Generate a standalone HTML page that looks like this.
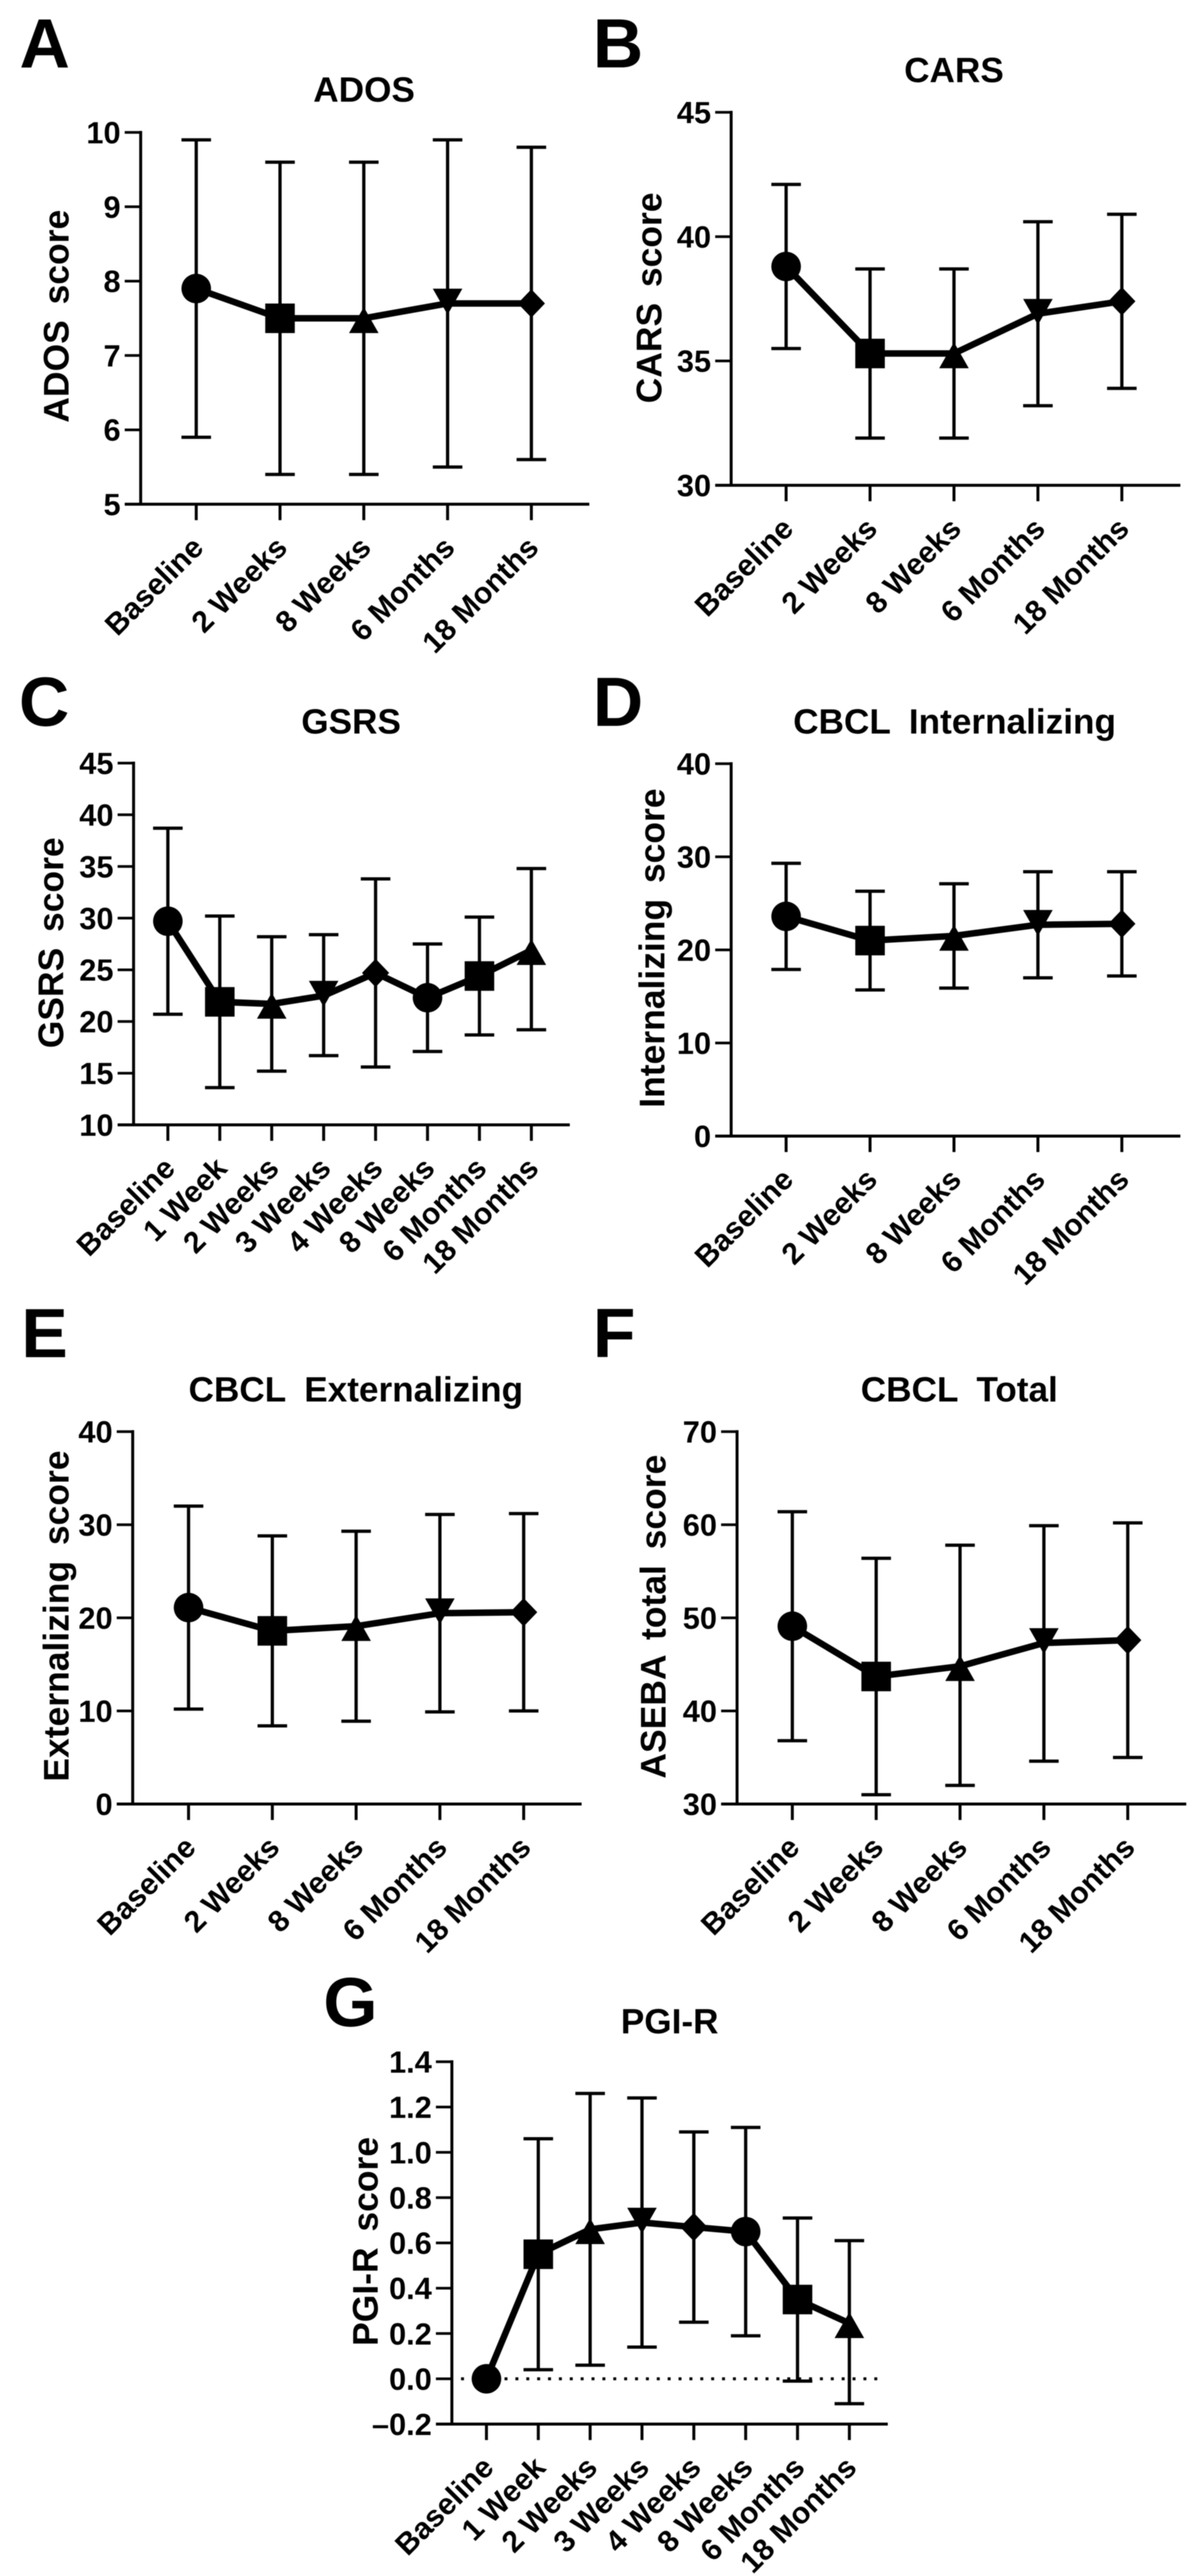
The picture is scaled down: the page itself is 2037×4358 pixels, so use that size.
<!DOCTYPE html>
<html lang="en">
<head>
<meta charset="utf-8">
<title>Longitudinal outcome scores, panels A to G</title>
<style>
  html, body { margin: 0; padding: 0; background: #fff; }
  #figure { display: block; width: 2037px; height: 4358px; filter: blur(0.7px); }
  text { font-family: "Liberation Sans", Arial, sans-serif; font-weight: 700; fill: #000; }
</style>
</head>
<body>
<svg id="figure" xmlns="http://www.w3.org/2000/svg" width="2037" height="4358" viewBox="0 0 2037 4358"></svg>
<script>
// ---------- Data ----------
const fiveCategories = ['Baseline', '2 Weeks', '8 Weeks', '6 Months', '18 Months'];
const eightCategories = ['Baseline', '1 Week', '2 Weeks', '3 Weeks', '4 Weeks', '8 Weeks', '6 Months', '18 Months'];

const adosTicks = [5, 6, 7, 8, 9, 10];
const adosMeans = [7.9, 7.5, 7.5, 7.7, 7.7];
const adosUpper = [9.9, 9.6, 9.6, 9.9, 9.8];
const adosLower = [5.9, 5.4, 5.4, 5.5, 5.6];

const carsTicks = [30, 35, 40, 45];
const carsMeans = [38.8, 35.3, 35.3, 36.9, 37.4];
const carsUpper = [42.1, 38.7, 38.7, 40.6, 40.9];
const carsLower = [35.5, 31.9, 31.9, 33.2, 33.9];

const gsrsTicks = [10, 15, 20, 25, 30, 35, 40, 45];
const gsrsMeans = [29.7, 21.9, 21.7, 22.5, 24.7, 22.3, 24.4, 26.9];
const gsrsUpper = [38.7, 30.2, 28.2, 28.4, 33.8, 27.5, 30.1, 34.8];
const gsrsLower = [20.7, 13.6, 15.2, 16.7, 15.6, 17.1, 18.7, 19.2];

const internalizingTicks = [0, 10, 20, 30, 40];
const internalizingMeans = [23.6, 21.0, 21.5, 22.7, 22.8];
const internalizingUpper = [29.3, 26.3, 27.1, 28.4, 28.4];
const internalizingLower = [17.9, 15.7, 15.9, 17.0, 17.2];

const externalizingTicks = [0, 10, 20, 30, 40];
const externalizingMeans = [21.1, 18.6, 19.1, 20.5, 20.6];
const externalizingUpper = [32.0, 28.8, 29.3, 31.1, 31.2];
const externalizingLower = [10.2, 8.4, 8.9, 9.9, 10.0];

const totalTicks = [30, 40, 50, 60, 70];
const totalMeans = [49.1, 43.7, 44.8, 47.3, 47.6];
const totalUpper = [61.4, 56.4, 57.8, 59.9, 60.2];
const totalLower = [36.8, 31.0, 32.0, 34.6, 35.0];

const pgiTicks = [-0.2, 0, 0.2, 0.4, 0.6, 0.8, 1.0, 1.2, 1.4];
const pgiTickLabels = ['\u20130.2', '0.0', '0.2', '0.4', '0.6', '0.8', '1.0', '1.2', '1.4'];
const pgiMeans = [0, 0.55, 0.66, 0.69, 0.67, 0.65, 0.35, 0.245];
const pgiUpper = [0, 1.06, 1.26, 1.24, 1.09, 1.11, 0.71, 0.61];
const pgiLower = [0, 0.04, 0.06, 0.14, 0.25, 0.19, -0.01, -0.11];

const markerCycle = ['circle', 'square', 'triangle-up', 'triangle-down', 'diamond'];

// ---------- Panel layout (pixels) ----------
const panels = [
  { id: 'ados', letter: 'A', letterX: 33, letterY: 114, title: 'ADOS', titleX: 616, titleY: 172,
    yTitle: 'ADOS score', yTitleX: 116, yTitleY: 535,
    axisX: 238, axisEnd: 997, top: 224, bottom: 853, catFirst: 332, catLast: 899,
    cats: fiveCategories, ticks: adosTicks, means: adosMeans, upper: adosUpper, lower: adosLower },
  { id: 'cars', letter: 'B', letterX: 1003, letterY: 114, title: 'CARS', titleX: 1614, titleY: 139,
    yTitle: 'CARS score', yTitleX: 1119, yTitleY: 504,
    axisX: 1237, axisEnd: 1997, top: 190, bottom: 821, catFirst: 1330, catLast: 1898,
    cats: fiveCategories, ticks: carsTicks, means: carsMeans, upper: carsUpper, lower: carsLower },
  { id: 'gsrs', letter: 'C', letterX: 32, letterY: 1228, title: 'GSRS', titleX: 594, titleY: 1241,
    yTitle: 'GSRS score', yTitleX: 107, yTitleY: 1595,
    axisX: 226, axisEnd: 964, top: 1291, bottom: 1903, catFirst: 284, catLast: 899,
    cats: eightCategories, ticks: gsrsTicks, means: gsrsMeans, upper: gsrsUpper, lower: gsrsLower },
  { id: 'internalizing', letter: 'D', letterX: 1003, letterY: 1228, title: 'CBCL Internalizing', titleX: 1615, titleY: 1241,
    yTitle: 'Internalizing score', yTitleX: 1124, yTitleY: 1604,
    axisX: 1237, axisEnd: 1997, top: 1292, bottom: 1922, catFirst: 1330, catLast: 1898,
    cats: fiveCategories, ticks: internalizingTicks, means: internalizingMeans, upper: internalizingUpper, lower: internalizingLower },
  { id: 'externalizing', letter: 'E', letterX: 36, letterY: 2296, title: 'CBCL Externalizing', titleX: 602, titleY: 2371,
    yTitle: 'Externalizing score', yTitleX: 116, yTitleY: 2734,
    axisX: 224.5, axisEnd: 984, top: 2422, bottom: 3052, catFirst: 319, catLast: 886,
    cats: fiveCategories, ticks: externalizingTicks, means: externalizingMeans, upper: externalizingUpper, lower: externalizingLower },
  { id: 'total', letter: 'F', letterX: 1003, letterY: 2296, title: 'CBCL Total', titleX: 1623, titleY: 2371,
    yTitle: 'ASEBA total score', yTitleX: 1126, yTitleY: 2735,
    axisX: 1247, axisEnd: 2007, top: 2422, bottom: 3052, catFirst: 1340.5, catLast: 1908,
    cats: fiveCategories, ticks: totalTicks, means: totalMeans, upper: totalUpper, lower: totalLower },
  { id: 'pgi', letter: 'G', letterX: 547, letterY: 3428, title: 'PGI-R', titleX: 1133, titleY: 3440,
    yTitle: 'PGI-R score', yTitleX: 639, yTitleY: 3792,
    axisX: 764.5, axisEnd: 1502, top: 3488, bottom: 4101, catFirst: 823, catLast: 1437,
    cats: eightCategories, ticks: pgiTicks, tickLabels: pgiTickLabels, means: pgiMeans, upper: pgiUpper, lower: pgiLower,
    zeroLine: true }
];

// ---------- Drawing ----------
const NS = 'http://www.w3.org/2000/svg';
const svg = document.getElementById('figure');

function make(tag, parent, props) {
  const node = document.createElementNS(NS, tag);
  for (const key in props) node.setAttribute(key, props[key]);
  parent.appendChild(node);
  return node;
}

function drawMarker(parent, kind, x, y) {
  const h = 25;
  if (kind === 'circle') return make('circle', parent, { cx: x, cy: y, r: h, fill: '#000' });
  if (kind === 'square') return make('rect', parent, { x: x - h, y: y - h, width: 2 * h, height: 2 * h, fill: '#000' });
  let pts;
  if (kind === 'triangle-up') pts = [[x, y - 19], [x + h, y + 25], [x - h, y + 25]];
  else if (kind === 'triangle-down') pts = [[x, y + 19], [x + h, y - 25], [x - h, y - 25]];
  else pts = [[x, y - 24], [x + 23, y], [x, y + 24], [x - 23, y]];
  return make('polygon', parent, { points: pts.map(function (p) { return p.join(','); }).join(' '), fill: '#000' });
}

panels.forEach(function (p) {
  const yMin = p.ticks[0];
  const yMax = p.ticks[p.ticks.length - 1];
  const yScale = function (v) { return p.bottom - (v - yMin) / (yMax - yMin) * (p.bottom - p.top); };
  const xScale = function (i) { return p.catFirst + i * (p.catLast - p.catFirst) / (p.cats.length - 1); };

  const g = make('g', svg, {});
  
  

  const letter = make('text', g, { x: p.letterX, y: p.letterY, 'font-size': 118 });
  letter.textContent = p.letter;
  
  

  const title = make('text', g, { x: p.titleX, y: p.titleY, 'font-size': 59.5, 'word-spacing': 15, 'text-anchor': 'middle' });
  title.textContent = p.title;
  
  

  const yTitle = make('text', g, { x: 0, y: 0, 'font-size': 60, 'word-spacing': 10, 'text-anchor': 'middle',
    transform: 'translate(' + p.yTitleX + ' ' + p.yTitleY + ') rotate(-90)' });
  yTitle.textContent = p.yTitle;
  
  

  // Axes
  const yAxis = make('line', g, { x1: p.axisX, x2: p.axisX, y1: p.top - 2.5, y2: p.bottom + 2.5, stroke: '#000', 'stroke-width': 5 });
  
  

  const xAxis = make('line', g, { x1: p.axisX - 27, x2: p.axisEnd, y1: p.bottom, y2: p.bottom, stroke: '#000', 'stroke-width': 5 });
  
  

  p.ticks.forEach(function (t, i) {
    const ty = yScale(t);
    const tick = make('line', g, { x1: p.axisX - 27, x2: p.axisX, y1: ty, y2: ty, stroke: '#000', 'stroke-width': 4.5 });
    
    
    const label = make('text', g, { x: p.axisX - 34, y: ty + 18.5, 'font-size': 52, 'text-anchor': 'end' });
    label.textContent = p.tickLabels ? p.tickLabels[i] : String(t);
    
    
  });

  p.cats.forEach(function (c, i) {
    const cx = xScale(i);
    const tick = make('line', g, { x1: cx, x2: cx, y1: p.bottom, y2: p.bottom + 27, stroke: '#000', 'stroke-width': 5 });
    
    
    const label = make('text', g, { x: 0, y: 0, 'font-size': 51, 'text-anchor': 'end',
      transform: 'translate(' + (cx + 15) + ' ' + (p.bottom + 27 + 49.5) + ') rotate(-45)' });
    label.textContent = c;
    
    
  });

  if (p.zeroLine) {
    const zero = make('line', g, { x1: p.axisX + 15.5, x2: p.axisEnd - 17, y1: yScale(0), y2: yScale(0),
      stroke: '#000', 'stroke-width': 5, 'stroke-dasharray': '5 13.4' });
    
    
  }

  // Error bars
  p.means.forEach(function (m, i) {
    if (p.upper[i] === p.lower[i]) return;
    const cx = xScale(i);
    const bar = make('path', g, {
      d: 'M' + (cx - 25) + ' ' + yScale(p.upper[i]) + 'H' + (cx + 25) +
         'M' + cx + ' ' + yScale(p.upper[i]) + 'V' + yScale(p.lower[i]) +
         'M' + (cx - 25) + ' ' + yScale(p.lower[i]) + 'H' + (cx + 25),
      fill: 'none', stroke: '#000', 'stroke-width': 5.5 });
    
    
  });

  // Mean line
  const line = make('polyline', g, {
    points: p.means.map(function (m, i) { return xScale(i) + ',' + yScale(m); }).join(' '),
    fill: 'none', stroke: '#000', 'stroke-width': 11, 'stroke-linejoin': 'round' });
  
  

  // Markers
  p.means.forEach(function (m, i) {
    const marker = drawMarker(g, markerCycle[i % markerCycle.length], xScale(i), yScale(m));
    
    
  });
});
</script>
</body>
</html>
